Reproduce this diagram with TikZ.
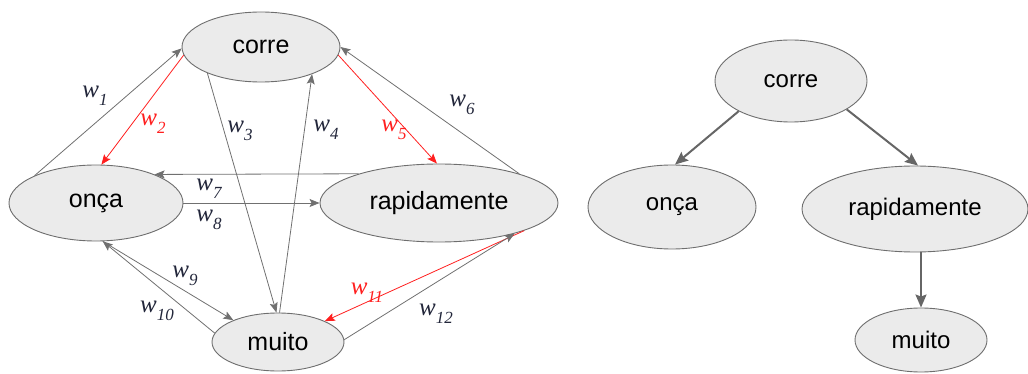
\documentclass[tikz,border=0pt]{standalone}
\usepackage{fontspec}
\setmainfont{Liberation Serif}
\newfontfamily\nodefont{Liberation Sans}
\usetikzlibrary{shapes.geometric,arrows.meta}
\definecolor{nfill}{HTML}{EBEBEB}
\definecolor{nline}{HTML}{6E6E6E}
\definecolor{egray}{HTML}{707070}
\definecolor{tgray}{HTML}{666666}
\definecolor{ered}{HTML}{FF1F1F}
\definecolor{lbl}{HTML}{22263A}
\newcommand{\wlab}[1]{\fontsize{25}{25}\selectfont\itshape w\raisebox{-8pt}{\fontsize{17}{17}\selectfont #1}}
\begin{document}
\begin{tikzpicture}[x=1pt,y=-1pt,
  word/.style={ellipse,draw=nline,fill=nfill,line width=0.9pt,inner sep=0pt,
    font=\nodefont\fontsize{25}{25}\selectfont},
  tword/.style={word,font=\nodefont\fontsize{24}{24}\selectfont},
  edge/.style={draw=egray,line width=0.8pt,-{Stealth[length=10pt,width=8pt,inset=2pt]}},
  redge/.style={edge,draw=ered},
  tedge/.style={draw=tgray,line width=2pt,-{Stealth[length=13pt,width=11pt,inset=2pt]}},
  wl/.style={inner sep=0pt,text=lbl},
  rwl/.style={inner sep=0pt,text=ered}]
\useasboundingbox (0,0) rectangle (1028,374);
% left graph nodes
\node[word,minimum width=158pt,minimum height=70pt] (corre) at (261,47) {corre};
\node[word,minimum width=174pt,minimum height=76pt] (onca) at (96,203) {onça};
\node[word,minimum width=238pt,minimum height=78pt] (rap) at (439,203) {rapidamente};
\node[word,minimum width=132pt,minimum height=58pt] (muito) at (278,342) {muito};
% left graph edges
\draw[edge]  (onca.156) -- (corre.181);
\draw[redge] (corre.186) -- (onca.82);
\draw[edge]  (corre.206) -- (muito.93);
\draw[edge]  (muito.87) -- (corre.332);
\draw[redge] (corre.354) -- (rap.93);
\draw[edge]  (rap.20) -- (corre.0);
\draw[edge]  (rap.160) -- (onca.26);
\draw[edge]  (onca.0) -- (rap.180);
\draw[edge]  (onca.280) -- (muito.154);
\draw[edge]  (muito.172) -- (onca.280);
\draw[redge] (rap.-18) -- (muito.24);
\draw[edge]  (muito.2) -- (rap.-22);
% labels
\node[wl]  (l1) at (95,96) {\wlab{1}};
\node[rwl] (l2) at (153,124) {\wlab{2}};
\node[wl]  (l3) at (240,131) {\wlab{3}};
\node[wl]  (l4) at (326,130) {\wlab{4}};
\node[rwl] (l5) at (394,130) {\wlab{5}};
\node[wl]  (l6) at (462,105) {\wlab{6}};
\node[wl]  (l7) at (209,189) {\wlab{7}};
\node[wl]  (l8) at (209,220) {\wlab{8}};
\node[wl]  (l9) at (185,276) {\wlab{9}};
\node[wl]  (l10) at (157,311) {\wlab{10}};
\node[rwl] (l11) at (367,293) {\wlab{11}};
\node[wl]  (l12) at (436,314) {\wlab{12}};
% right tree
\node[tword,minimum width=152pt,minimum height=82pt] (tcorre) at (791,81) {corre};
\node[tword,minimum width=168pt,minimum height=84pt] (tonca) at (672,207) {onça};
\node[tword,minimum width=226pt,minimum height=86pt] (trap) at (915,209) {rapidamente};
\node[tword,minimum width=132pt,minimum height=64pt] (tmuito) at (921,340) {muito};
\draw[tedge] (tcorre.210) -- (tonca.86);
\draw[tedge] (tcorre.-27) -- (trap.86);
\draw[tedge] (trap.south -| tmuito.north) -- (tmuito.north);
\end{tikzpicture}
\end{document}
